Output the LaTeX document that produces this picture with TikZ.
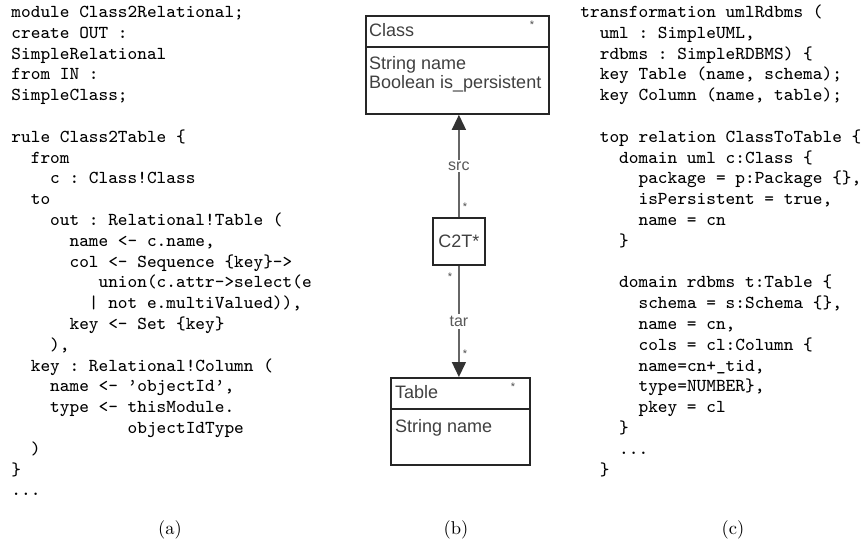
\documentclass[tikz,border=0pt]{standalone}
\usepackage{fontspec}
\newfontfamily\umlfont{Liberation Sans}
\usetikzlibrary{arrows.meta}
\newcommand\codefont{\fontsize{8}{9.123}\selectfont\ttfamily\frenchspacing}
\newcommand\capfont{\fontsize{10}{12}\selectfont\rmfamily}
\newcommand\umlsize{\fontsize{18}{20}\selectfont\umlfont}
\begin{document}
\begin{tikzpicture}[x=1pt,y=-1pt,
  code/.style={inner sep=0pt, anchor=north west, align=left, font=\codefont, scale=2.28, transform shape},
  caption/.style={inner sep=0pt, anchor=base, font=\capfont, scale=1.85, transform shape},
  umlbox/.style={draw=black!85, line width=1.8pt, inner sep=0pt, anchor=north west},
  divider/.style={draw=black!85, line width=1.6pt},
  umltext/.style={inner sep=0pt, anchor=base west, font=\umlsize, text=black!75},
  mult/.style={inner sep=0pt, font=\fontsize{11}{11}\selectfont\umlfont, text=black!70},
  role/.style={fill=white, inner sep=2pt, font=\fontsize{16}{16}\selectfont\umlfont, text=black!65},
  wire/.style={draw=black!60, line width=1.4pt, -{Triangle[length=15pt,width=14pt,color=black!80]}},
]
\useasboundingbox (0,0) rectangle (867,542);

% (a) ATL transformation
\node[code] (atl) at (11,2.44) {%
\strut module Class2Relational;\\
\strut create OUT :\\
\strut SimpleRelational\\
\strut from IN :\\
\strut SimpleClass;\\
\strut\\
\strut rule Class2Table \{\\
\strut ~~from\\
\strut ~~~~c : Class!Class\\
\strut ~~to\\
\strut ~~~~out : Relational!Table (\\
\strut ~~~~~~name <- c.name,\\
\strut ~~~~~~col <- Sequence \{key\}->\\
\strut ~~~~~~~~~union(c.attr->select(e\\
\strut ~~~~~~~~| not e.multiValued)),\\
\strut ~~~~~~key <- Set \{key\}\\
\strut ~~~~),\\
\strut ~~key : Relational!Column (\\
\strut ~~~~name <- ’objectId’,\\
\strut ~~~~type <- thisModule.\\
\strut ~~~~~~~~~~~~objectIdType\\
\strut ~~)\\
\strut \}\\
\strut ...};

% (c) QVT relation
\node[code] (qvt) at (580,2.44) {%
\strut transformation umlRdbms (\\
\strut ~~uml : SimpleUML,\\
\strut ~~rdbms : SimpleRDBMS) \{\\
\strut ~~key Table (name, schema);\\
\strut ~~key Column (name, table);\\
\strut\\
\strut ~~top relation ClassToTable \{\\
\strut ~~~~domain uml c:Class \{\\
\strut ~~~~~~package = p:Package \{\},\\
\strut ~~~~~~isPersistent = true,\\
\strut ~~~~~~name = cn\\
\strut ~~~~\}\\
\strut\\
\strut ~~~~domain rdbms t:Table \{\\
\strut ~~~~~~schema = s:Schema \{\},\\
\strut ~~~~~~name = cn,\\
\strut ~~~~~~cols = cl:Column \{\\
\strut ~~~~~~name=cn+\_tid,\\
\strut ~~~~~~type=NUMBER\},\\
\strut ~~~~~~pkey = cl\\
\strut ~~~~\}\\
\strut ~~~~...\\
\strut ~~\}};

% (b) correspondence metamodel
\node[umlbox, minimum width=183pt, minimum height=98pt] (cls) at (365,15) {};
\draw[divider] ([yshift=-32pt]cls.north west) -- ([yshift=-32pt]cls.north east);
\node[umltext] (clsname) at (369,36) {Class};
\node[mult] (clsmult) at (532,25) {*};
\node[umltext] (clsattra) at (369,69) {String name};
\node[umltext] (clsattrb) at (369,88) {Boolean is\_persistent};

\node[umlbox, minimum width=52pt, minimum height=47pt, font=\umlsize, text=black!75] (c2t) at (432,217) {C2T*};

\node[umlbox, minimum width=139pt, minimum height=87pt] (tbl) at (390,377) {};
\draw[divider] ([yshift=-32pt]tbl.north west) -- ([yshift=-32pt]tbl.north east);
\node[umltext] (tblname) at (395,398) {Table};
\node[mult] (tblmult) at (513,387) {*};
\node[umltext] (tblattr) at (395,432) {String name};

\draw[wire] (c2t.north) -- node[role] (srclbl) {src} (c2t.north |- cls.south);
\draw[wire] (c2t.south) -- node[role] (tarlbl) {tar} (c2t.south |- tbl.north);
\node[mult] (srcmult) at (465,207) {*};
\node[mult] (tarmulta) at (450,277) {*};
\node[mult] (tarmultb) at (465,354) {*};

% captions
\node[caption] (capa) at (170,534) {(a)};
\node[caption] (capb) at (456,534) {(b)};
\node[caption] (capc) at (733,534) {(c)};
\end{tikzpicture}
\end{document}
